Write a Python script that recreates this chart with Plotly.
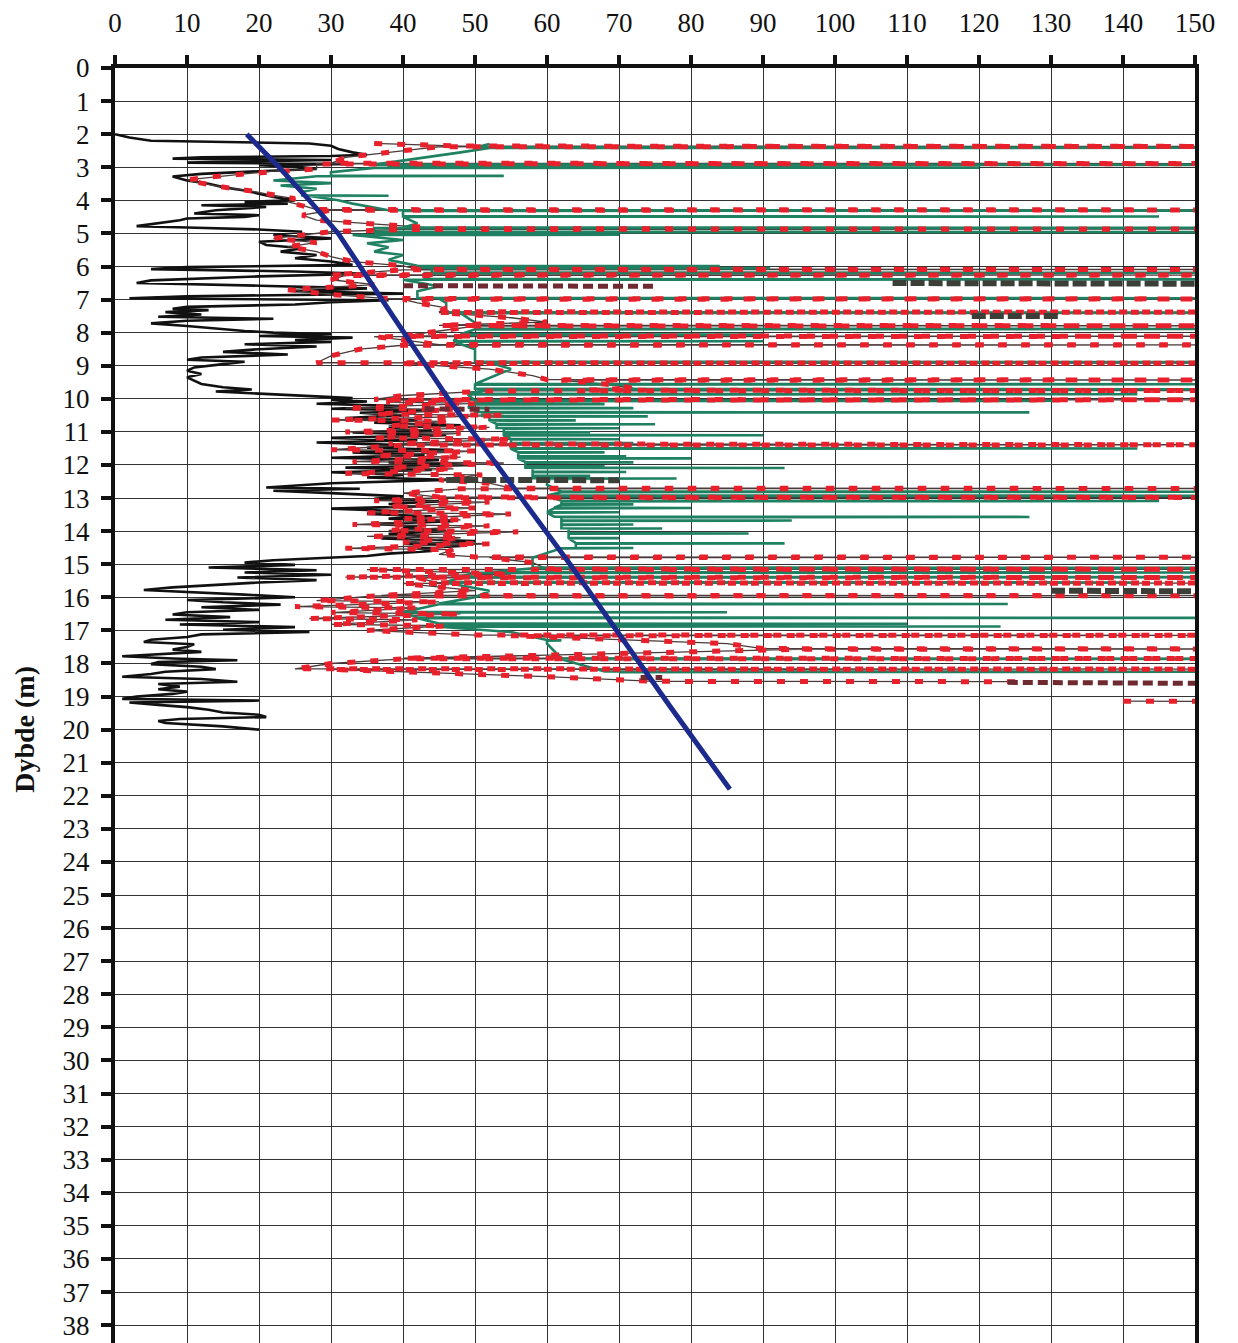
import plotly.graph_objects as go

# ---------------- data (depth in m, value on the x scale) ----------------
black_profile = [
    (2.00, 0), (2.10, 2), (2.20, 5), (2.25, 18), (2.28, 27), (2.35, 30), (2.45, 31), (2.55, 33),
    (2.62, 35), (2.66, 30), (2.70, 12), (2.74, 8), (2.78, 30), (2.82, 20), (2.86, 10), (2.90, 33),
    (2.94, 20), (2.98, 25), (3.05, 28), (3.12, 20), (3.20, 12), (3.28, 8), (3.33, 9), (3.40, 10),
    (3.50, 13), (3.60, 15), (3.70, 18), (3.80, 20), (3.90, 22), (4.00, 25), (4.05, 18), (4.10, 24),
    (4.15, 12), (4.20, 21), (4.30, 14), (4.40, 11), (4.45, 20), (4.50, 18), (4.55, 10), (4.60, 9),
    (4.70, 6), (4.78, 3), (4.82, 10), (4.88, 20), (4.95, 26), (5.05, 22), (5.15, 30), (5.25, 20),
    (5.35, 21), (5.45, 26), (5.55, 23), (5.65, 28), (5.75, 25), (5.85, 30), (5.95, 33), (6.02, 10),
    (6.08, 5), (6.15, 25), (6.22, 35), (6.30, 20), (6.42, 5), (6.50, 3), (6.58, 20), (6.66, 35),
    (6.75, 25), (6.82, 40), (6.90, 10), (6.96, 2), (7.02, 38), (7.08, 30), (7.15, 25), (7.22, 10),
    (7.28, 8), (7.32, 13), (7.38, 7), (7.45, 12), (7.52, 6), (7.58, 22), (7.64, 10), (7.72, 5),
    (7.80, 10), (7.88, 14), (7.95, 18), (8.00, 22), (8.05, 30), (8.10, 20), (8.15, 33), (8.22, 25),
    (8.28, 30), (8.35, 18), (8.42, 28), (8.50, 20), (8.58, 15), (8.66, 24), (8.75, 12), (8.82, 10),
    (8.88, 18), (8.95, 15), (9.05, 11), (9.15, 10), (9.25, 12), (9.35, 10), (9.45, 11), (9.55, 12),
    (9.65, 15), (9.72, 19), (9.78, 14), (9.85, 20), (9.92, 26), (9.98, 33), (10.03, 30), (10.08, 35),
    (10.15, 28), (10.22, 40), (10.30, 30), (10.36, 45), (10.42, 34), (10.50, 40), (10.58, 32),
    (10.65, 42), (10.72, 36), (10.80, 48), (10.88, 38), (10.95, 44), (11.02, 33), (11.10, 46),
    (11.18, 30), (11.25, 42), (11.32, 28), (11.40, 40), (11.48, 35), (11.55, 47), (11.62, 33),
    (11.70, 43), (11.78, 30), (11.85, 45), (11.92, 38), (12.00, 50), (12.08, 32), (12.15, 44),
    (12.22, 30), (12.30, 40), (12.38, 35), (12.45, 46), (12.55, 30), (12.62, 25), (12.68, 21),
    (12.72, 34), (12.78, 22), (12.85, 30), (12.95, 40), (13.02, 36), (13.10, 45), (13.18, 38),
    (13.25, 42), (13.32, 30), (13.40, 40), (13.48, 35), (13.55, 44), (13.62, 38), (13.70, 47),
    (13.78, 36), (13.85, 42), (13.92, 40), (14.00, 46), (14.08, 38), (14.15, 43), (14.22, 37),
    (14.30, 50), (14.38, 40), (14.45, 48), (14.52, 42), (14.60, 44), (14.68, 38), (14.75, 35),
    (14.82, 28), (14.88, 22), (14.95, 18), (15.02, 25), (15.10, 13), (15.18, 28), (15.25, 18),
    (15.32, 30), (15.40, 17), (15.48, 28), (15.55, 20), (15.62, 15), (15.70, 8), (15.78, 4),
    (15.85, 12), (15.92, 18), (16.00, 25), (16.08, 10), (16.15, 15), (16.22, 23), (16.30, 12),
    (16.38, 20), (16.45, 10), (16.52, 8), (16.60, 16), (16.68, 7), (16.75, 20), (16.82, 9),
    (16.90, 25), (16.98, 15), (17.05, 27), (17.12, 12), (17.20, 10), (17.28, 5), (17.35, 4),
    (17.42, 11), (17.50, 10), (17.58, 8), (17.65, 12), (17.72, 5), (17.78, 1), (17.85, 8),
    (17.90, 17), (17.96, 6), (18.02, 5), (18.10, 12), (18.17, 14), (18.25, 7), (18.32, 5),
    (18.40, 1), (18.47, 12), (18.55, 17), (18.62, 6), (18.70, 9), (18.78, 6), (18.85, 10),
    (18.92, 8), (19.00, 3), (19.07, 1), (19.12, 20), (19.18, 2), (19.25, 6), (19.32, 10),
    (19.40, 13), (19.48, 15), (19.55, 20), (19.62, 21), (19.68, 9), (19.74, 6), (19.80, 7),
    (19.90, 15), (20.00, 20),
]

red_profile = [
    (2.28, 36), (2.32, 42), (2.36, 48), (2.37, 160), (2.38, 45), (2.45, 42), (2.55, 38), (2.70, 32),
    (2.88, 30), (2.89, 160), (2.90, 28), (3.05, 28), (3.12, 22), (3.20, 18), (3.30, 13), (3.38, 10),
    (3.48, 12), (3.60, 15), (3.72, 19), (3.85, 22), (3.95, 25), (4.05, 24), (4.15, 26), (4.28, 28),
    (4.29, 160), (4.30, 30), (4.45, 26), (4.60, 28), (4.80, 42), (4.86, 45), (4.87, 160), (4.88, 40),
    (4.95, 30), (5.05, 26), (5.15, 22), (5.28, 28), (5.40, 24), (5.55, 28), (5.70, 30), (5.85, 33),
    (5.98, 40), (6.08, 42), (6.09, 160), (6.10, 40), (6.18, 35), (6.25, 30), (6.26, 160), (6.27, 32),
    (6.40, 30), (6.55, 36), (6.70, 24), (6.85, 30), (6.97, 38), (6.98, 160), (6.99, 40), (7.10, 42),
    (7.25, 46), (7.37, 45), (7.38, 160), (7.39, 45), (7.55, 55), (7.68, 60), (7.78, 45), (7.79, 160),
    (7.80, 50), (7.95, 45), (8.10, 40), (8.11, 160), (8.12, 36), (8.22, 40), (8.36, 45), (8.37, 160),
    (8.38, 40), (8.50, 34), (8.70, 30), (8.91, 28), (8.92, 160), (8.93, 40), (9.10, 52), (9.30, 58),
    (9.42, 60), (9.43, 160), (9.44, 62), (9.55, 68), (9.68, 72), (9.74, 65), (9.75, 160), (9.76, 52),
    (9.90, 40), (10.02, 36), (10.03, 160), (10.04, 38),
    (10.10, 38), (10.14, 50), (10.28, 32), (10.32, 47), (10.46, 36), (10.50, 54), (10.64, 30),
    (10.68, 46), (10.82, 38), (10.86, 52), (11.00, 32), (11.04, 48), (11.18, 36), (11.22, 55),
    (11.36, 38), (11.39, 160), (11.40, 40), (11.54, 30), (11.58, 50), (11.72, 36), (11.76, 48),
    (11.90, 33), (11.94, 54), (12.08, 38), (12.12, 47), (12.26, 32), (12.30, 51), (12.45, 45),
    (12.55, 52), (12.70, 55), (12.71, 160), (12.72, 48), (12.85, 40), (12.97, 45), (12.98, 160),
    (12.99, 45), (13.08, 36), (13.12, 52), (13.26, 38), (13.30, 50), (13.44, 35), (13.48, 55),
    (13.62, 40), (13.66, 48), (13.80, 33), (13.84, 52), (13.98, 38), (14.02, 56), (14.16, 35),
    (14.20, 48), (14.34, 40), (14.38, 52), (14.52, 32), (14.56, 47), (14.70, 45), (14.78, 50),
    (14.79, 160), (14.80, 52), (14.95, 58), (15.14, 60), (15.15, 160), (15.16, 35), (15.30, 55),
    (15.39, 32), (15.40, 160), (15.41, 42), (15.56, 45), (15.57, 160), (15.58, 40), (15.80, 50),
    (15.94, 37), (15.95, 160), (15.96, 36), (16.10, 28), (16.14, 45), (16.28, 25), (16.32, 42),
    (16.46, 30), (16.50, 48), (16.64, 27), (16.68, 42), (16.82, 30), (16.86, 46), (17.00, 35),
    (17.10, 45), (17.14, 50), (17.15, 160), (17.16, 55), (17.40, 85), (17.55, 90), (17.56, 160),
    (17.57, 95), (17.75, 60), (17.84, 40), (17.85, 160), (17.86, 40), (18.00, 30), (18.16, 25),
    (18.17, 160), (18.18, 30), (18.40, 60), (18.54, 75), (18.55, 125), (None, None),
    (19.14, 140), (19.15, 160),
]

green_profile = [
    (2.30, 52), (2.40, 50), (2.41, 160), (2.42, 52), (2.55, 48), (2.80, 40), (2.92, 36), (2.93, 160),
    (2.94, 38), (3.00, 38), (3.01, 120), (3.02, 36), (3.15, 30), (3.25, 30), (3.26, 54), (3.27, 28),
    (3.40, 22), (3.48, 30), (3.55, 23), (3.65, 28), (3.75, 26), (3.85, 26), (3.86, 38), (3.87, 27),
    (4.00, 31), (4.10, 33), (4.30, 38), (4.31, 160), (4.32, 40), (4.48, 40), (4.49, 145), (4.50, 40),
    (4.70, 42), (4.82, 40), (4.83, 160), (4.84, 36), (4.95, 36), (4.96, 160), (4.97, 38), (5.03, 36),
    (5.04, 70), (5.05, 33), (5.20, 40), (5.30, 35), (5.42, 38), (5.55, 36), (5.65, 40), (5.80, 38),
    (5.98, 42), (5.99, 84), (6.00, 42), (6.04, 42), (6.05, 91), (6.06, 44), (6.18, 44), (6.19, 160),
    (6.20, 43), (6.38, 43), (6.39, 160), (6.40, 40), (6.60, 45), (6.75, 42), (6.95, 42), (6.96, 160),
    (6.97, 45), (7.10, 46), (7.39, 46), (7.40, 160), (7.41, 48), (7.70, 50), (7.88, 50), (7.89, 160),
    (7.90, 50), (8.05, 48), (8.06, 90), (8.07, 48), (8.25, 47), (8.26, 90), (8.27, 47), (8.50, 50),
    (8.88, 50), (8.89, 160), (8.90, 52), (9.10, 55), (9.55, 50), (9.56, 160), (9.57, 50), (9.70, 50),
    (9.71, 160), (9.72, 52), (9.85, 49), (9.86, 142), (9.87, 49), (10.05, 50), (10.06, 132),
    (10.07, 50),
    (10.15, 50), (10.16, 68), (10.17, 50), (10.27, 49), (10.28, 72), (10.29, 50), (10.40, 50),
    (10.41, 127), (10.42, 51), (10.52, 51), (10.53, 74), (10.54, 52), (10.64, 52), (10.65, 64),
    (10.66, 52), (10.76, 53), (10.77, 75), (10.78, 53), (10.88, 53), (10.89, 70), (10.90, 54),
    (11.00, 54), (11.01, 66), (11.02, 54), (11.09, 54), (11.10, 90), (11.11, 54), (11.21, 55),
    (11.22, 70), (11.23, 55), (11.33, 55), (11.34, 72), (11.35, 55), (11.49, 55), (11.50, 142),
    (11.51, 55), (11.61, 56), (11.62, 68), (11.63, 56), (11.73, 56), (11.74, 71), (11.75, 56),
    (11.79, 56), (11.80, 80), (11.81, 56), (11.91, 57), (11.92, 72), (11.93, 57), (12.03, 57),
    (12.04, 68), (12.05, 57), (12.08, 57), (12.09, 93), (12.10, 58), (12.20, 58), (12.21, 71),
    (12.22, 58), (12.32, 58), (12.33, 66), (12.34, 58), (12.40, 58), (12.41, 78), (12.42, 60),
    (12.60, 60), (12.80, 62), (12.81, 160), (12.82, 62), (12.92, 60), (12.93, 160), (12.94, 60),
    (13.08, 62), (13.09, 145), (13.10, 62),
    (13.18, 62), (13.19, 72), (13.20, 62), (13.29, 61), (13.30, 80), (13.31, 61), (13.42, 60),
    (13.43, 70), (13.44, 60), (13.56, 61), (13.57, 127), (13.58, 62), (13.67, 62), (13.68, 94),
    (13.69, 62), (13.79, 62), (13.80, 72), (13.81, 62), (13.91, 62), (13.92, 76), (13.93, 63),
    (14.06, 63), (14.07, 88), (14.08, 63), (14.20, 63), (14.21, 70), (14.22, 63), (14.36, 64),
    (14.37, 93), (14.38, 64), (14.50, 64), (14.51, 72), (14.52, 62), (14.80, 58),
    (15.00, 58), (15.10, 58), (15.11, 160), (15.12, 58), (15.24, 52), (15.25, 160), (15.26, 50),
    (15.38, 48), (15.39, 160), (15.40, 48), (15.54, 46), (15.55, 142), (15.56, 46), (15.80, 52),
    (16.00, 50), (16.19, 45), (16.20, 124), (16.21, 45), (16.35, 42), (16.44, 40), (16.45, 85),
    (16.46, 40), (16.61, 42), (16.62, 160), (16.63, 42), (16.79, 45), (16.80, 110), (16.81, 45),
    (16.87, 45), (16.88, 123), (16.89, 45), (17.05, 55), (17.29, 60), (17.30, 62), (17.31, 60),
    (17.40, 60), (17.85, 62), (17.86, 160), (17.87, 62), (18.24, 68), (18.25, 160), (18.26, 70),
]

# short dark segments (None separates segments)
brown_profile = [
    (6.58, 40), (6.60, 75), (None, None),
    (10.30, 43), (10.32, 52), (None, None),
    (18.57, 124), (18.60, 150), (None, None),
    (18.42, 73), (18.42, 76),
]
darkgray_profile = [
    (6.50, 108), (6.52, 150), (None, None),
    (7.50, 119), (7.50, 131), (None, None),
    (12.45, 46), (12.46, 70), (None, None),
    (15.80, 130), (15.82, 150),
]

blue_profile = [
    (2.0, 18.3), (3.0, 22.8), (4.0, 27.0), (5.0, 31.0), (7.5, 38.6),
    (10.0, 46.3), (15.0, 63.2), (19.3, 77.1), (21.8, 85.4),
]

x_ticks = list(range(0, 151, 10))
y_ticks = list(range(0, 39))
axis_title = "Dybde (m)"


def split(profile):
    return [p[1] for p in profile], [p[0] for p in profile]


fig = go.Figure()

bx, by = split(black_profile)
rx, ry = split(red_profile)
gx, gy = split(green_profile)
brx, bry = split(brown_profile)
dgx, dgy = split(darkgray_profile)
blx, bly = split(blue_profile)

fig.add_trace(go.Scatter(x=bx, y=by, mode="lines", line=dict(color="#111111", width=2.6)))
fig.add_trace(go.Scatter(x=rx, y=ry, mode="lines", connectgaps=False,
                         line=dict(color="#4a3a3a", width=1.3)))
fig.add_trace(go.Scatter(x=gx, y=gy, mode="lines", line=dict(color="#1f8062", width=2.6)))
fig.add_trace(go.Scatter(x=rx, y=ry, mode="lines", connectgaps=False,
                         line=dict(color="#e8202c", width=5, dash="8px,15px")))
fig.add_trace(go.Scatter(x=brx, y=bry, mode="lines", connectgaps=False,
                         line=dict(color="#6e2a30", width=5, dash="10px,5px")))
fig.add_trace(go.Scatter(x=dgx, y=dgy, mode="lines", connectgaps=False,
                         line=dict(color="#3b3f38", width=6, dash="14px,4px")))
fig.add_trace(go.Scatter(x=blx, y=bly, mode="lines", line=dict(color="#1c2a8e", width=5)))

tickfont = dict(family="Liberation Serif", size=27, color="#111111")
fig.update_layout(
    width=1238, height=1343,
    margin=dict(l=115, r=43, t=68, b=0),
    paper_bgcolor="white", plot_bgcolor="white",
    showlegend=False,
    xaxis=dict(side="top", range=[0, 150], tickvals=x_ticks, ticktext=[str(v) for v in x_ticks],
               showgrid=True, gridcolor="#333333", gridwidth=1.3, zeroline=False,
               showline=True, linecolor="#111111", linewidth=4,
               ticks="outside", ticklen=9, tickwidth=4, tickcolor="#111111",
               tickfont=tickfont, ticklabelstandoff=12),
    yaxis=dict(range=[38.54, 0], tickvals=y_ticks, ticktext=[str(v) for v in y_ticks],
               showgrid=True, gridcolor="#333333", gridwidth=1.3, zeroline=False,
               showline=True, linecolor="#111111", linewidth=4, mirror=True,
               ticks="outside", ticklen=10, tickwidth=4, tickcolor="#111111",
               tickfont=tickfont, ticklabelstandoff=6),
    annotations=[dict(text="<b>" + axis_title + "</b>", xref="paper", yref="paper",
                      x=-0.0833, y=0.481, showarrow=False, textangle=-90,
                      font=dict(family="Liberation Serif", size=28, color="#111111"),
                      xanchor="center", yanchor="middle")],
)

fig.write_html("out.html", config={"displayModeBar": False},
               post_script="document.body.style.margin='0';document.body.style.overflow='hidden';")
